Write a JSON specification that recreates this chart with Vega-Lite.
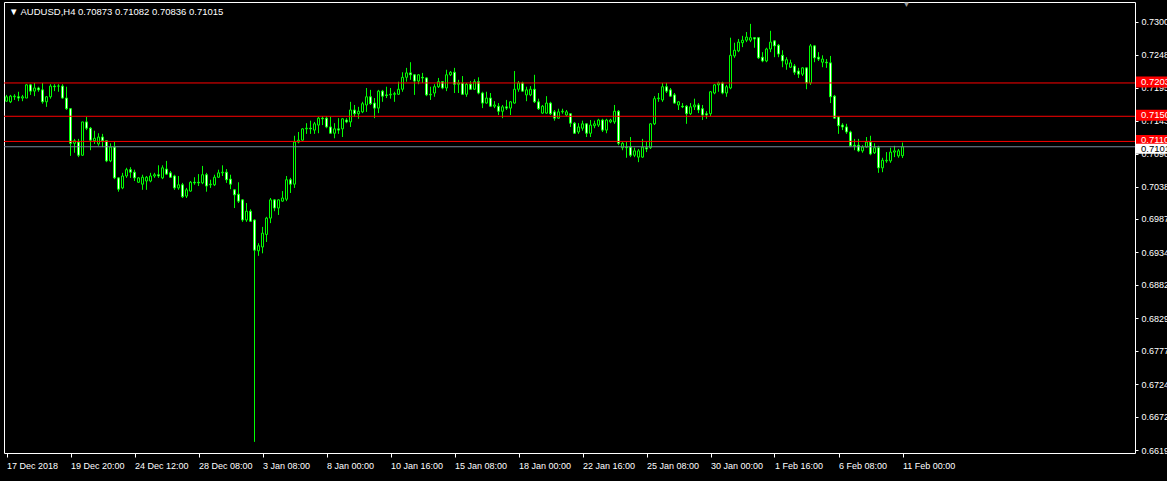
{
  "$schema": "https://vega.github.io/schema/vega-lite/v6.json",
  "width": 1131,
  "height": 451,
  "autosize": {"type": "none"},
  "padding": {"left": 4, "top": 2, "right": 32, "bottom": 28},
  "background": "#000000",
  "title": {
    "text": "▼ AUDUSD,H4  0.70873 0.71082 0.70836 0.71015",
    "anchor": "start",
    "frame": "group",
    "offset": -15,
    "dx": 5,
    "color": "#ffffff",
    "font": "Liberation Sans",
    "fontSize": 9.5,
    "fontWeight": "normal"
  },
  "config": {
    "view": {"fill": "#000000", "stroke": "#ffffff", "strokeWidth": 1},
    "font": "Liberation Sans",
    "scale": {"continuousPadding": 0},
    "axisX": {"domain": false, "grid": false, "tickColor": "#ffffff", "tickSize": 4, "labelColor": "#ffffff", "labelFont": "Liberation Sans", "labelFontSize": 9, "labelAlign": "left", "labelBaseline": "top", "labelPadding": 4, "labelOverlap": false, "labelFlush": false, "labelBound": false},
    "axisY": {"domain": false, "grid": false, "tickColor": "#ffffff", "tickSize": 3, "labelColor": "#ffffff", "labelFont": "Liberation Sans", "labelFontSize": 9, "labelPadding": 3, "labelOverlap": false, "labelFlush": false, "labelBound": false}
  },
  "datasets": {
    "bars": [
      {"i":0,"o":0.7174,"h":0.7184,"l":0.7173,"c":0.7181},
      {"i":1,"o":0.7173,"h":0.7184,"l":0.7171,"c":0.7182},
      {"i":2,"o":0.7181,"h":0.7185,"l":0.7176,"c":0.7182},
      {"i":3,"o":0.7181,"h":0.7189,"l":0.7174,"c":0.7179},
      {"i":4,"o":0.7179,"h":0.7184,"l":0.7174,"c":0.7181},
      {"i":5,"o":0.7179,"h":0.7201,"l":0.7179,"c":0.7200},
      {"i":6,"o":0.7200,"h":0.7201,"l":0.7184,"c":0.7190},
      {"i":7,"o":0.7190,"h":0.7203,"l":0.7182,"c":0.7195},
      {"i":8,"o":0.7195,"h":0.7197,"l":0.7189,"c":0.7192},
      {"i":9,"o":0.7192,"h":0.7203,"l":0.7170,"c":0.7173},
      {"i":10,"o":0.7173,"h":0.7182,"l":0.7165,"c":0.7181},
      {"i":11,"o":0.7181,"h":0.7201,"l":0.7178,"c":0.7198},
      {"i":12,"o":0.7198,"h":0.7201,"l":0.7190,"c":0.7197},
      {"i":13,"o":0.7198,"h":0.7201,"l":0.7189,"c":0.7198},
      {"i":14,"o":0.7198,"h":0.7201,"l":0.7178,"c":0.7179},
      {"i":15,"o":0.7179,"h":0.7197,"l":0.7160,"c":0.7162},
      {"i":16,"o":0.7162,"h":0.7163,"l":0.7087,"c":0.7107},
      {"i":17,"o":0.7107,"h":0.7114,"l":0.7092,"c":0.7111},
      {"i":18,"o":0.7109,"h":0.7114,"l":0.7085,"c":0.7088},
      {"i":19,"o":0.7088,"h":0.7141,"l":0.7087,"c":0.7141},
      {"i":20,"o":0.7141,"h":0.7149,"l":0.7128,"c":0.7131},
      {"i":21,"o":0.7131,"h":0.7133,"l":0.7096,"c":0.7112},
      {"i":22,"o":0.7111,"h":0.7127,"l":0.7106,"c":0.7115},
      {"i":23,"o":0.7106,"h":0.7123,"l":0.7103,"c":0.7117},
      {"i":24,"o":0.7117,"h":0.7122,"l":0.7101,"c":0.7111},
      {"i":25,"o":0.7111,"h":0.7111,"l":0.7077,"c":0.7079},
      {"i":26,"o":0.7079,"h":0.7107,"l":0.7077,"c":0.7101},
      {"i":27,"o":0.7101,"h":0.7109,"l":0.7050,"c":0.7052},
      {"i":28,"o":0.7052,"h":0.7053,"l":0.7030,"c":0.7034},
      {"i":29,"o":0.7036,"h":0.7060,"l":0.7034,"c":0.7055},
      {"i":30,"o":0.7055,"h":0.7068,"l":0.7052,"c":0.7065},
      {"i":31,"o":0.7065,"h":0.7069,"l":0.7052,"c":0.7061},
      {"i":32,"o":0.7061,"h":0.7065,"l":0.7047,"c":0.7052},
      {"i":33,"o":0.7045,"h":0.7053,"l":0.7044,"c":0.7052},
      {"i":34,"o":0.7042,"h":0.7057,"l":0.7033,"c":0.7053},
      {"i":35,"o":0.7047,"h":0.7055,"l":0.7033,"c":0.7053},
      {"i":36,"o":0.7047,"h":0.7060,"l":0.7045,"c":0.7055},
      {"i":37,"o":0.7055,"h":0.7060,"l":0.7052,"c":0.7057},
      {"i":38,"o":0.7057,"h":0.7072,"l":0.7052,"c":0.7055},
      {"i":39,"o":0.7052,"h":0.7072,"l":0.7050,"c":0.7068},
      {"i":40,"o":0.7066,"h":0.7079,"l":0.7057,"c":0.7058},
      {"i":41,"o":0.7060,"h":0.7063,"l":0.7052,"c":0.7053},
      {"i":42,"o":0.7055,"h":0.7057,"l":0.7033,"c":0.7036},
      {"i":43,"o":0.7036,"h":0.7055,"l":0.7033,"c":0.7041},
      {"i":44,"o":0.7041,"h":0.7044,"l":0.7020,"c":0.7022},
      {"i":45,"o":0.7023,"h":0.7036,"l":0.7020,"c":0.7033},
      {"i":46,"o":0.7031,"h":0.7047,"l":0.7030,"c":0.7045},
      {"i":47,"o":0.7045,"h":0.7053,"l":0.7041,"c":0.7044},
      {"i":48,"o":0.7045,"h":0.7058,"l":0.7039,"c":0.7044},
      {"i":49,"o":0.7044,"h":0.7071,"l":0.7042,"c":0.7057},
      {"i":50,"o":0.7057,"h":0.7060,"l":0.7030,"c":0.7039},
      {"i":51,"o":0.7041,"h":0.7049,"l":0.7036,"c":0.7042},
      {"i":52,"o":0.7041,"h":0.7057,"l":0.7039,"c":0.7053},
      {"i":53,"o":0.7053,"h":0.7065,"l":0.7052,"c":0.7060},
      {"i":54,"o":0.7060,"h":0.7072,"l":0.7055,"c":0.7061},
      {"i":55,"o":0.7061,"h":0.7066,"l":0.7044,"c":0.7049},
      {"i":56,"o":0.7050,"h":0.7057,"l":0.7034,"c":0.7042},
      {"i":57,"o":0.7033,"h":0.7034,"l":0.7004,"c":0.7025},
      {"i":58,"o":0.7026,"h":0.7045,"l":0.7012,"c":0.7015},
      {"i":59,"o":0.7017,"h":0.7018,"l":0.6982,"c":0.6985},
      {"i":60,"o":0.6985,"h":0.7012,"l":0.6982,"c":0.6999},
      {"i":61,"o":0.6999,"h":0.7002,"l":0.6982,"c":0.6983},
      {"i":62,"o":0.6985,"h":0.6986,"l":0.6632,"c":0.6937},
      {"i":63,"o":0.6936,"h":0.6948,"l":0.6928,"c":0.6944},
      {"i":64,"o":0.6942,"h":0.6974,"l":0.6932,"c":0.6964},
      {"i":65,"o":0.6962,"h":0.6990,"l":0.6950,"c":0.6988},
      {"i":66,"o":0.6988,"h":0.7020,"l":0.6980,"c":0.7017},
      {"i":67,"o":0.7017,"h":0.7018,"l":0.6999,"c":0.7004},
      {"i":68,"o":0.7004,"h":0.7018,"l":0.6993,"c":0.7017},
      {"i":69,"o":0.7015,"h":0.7031,"l":0.7014,"c":0.7020},
      {"i":70,"o":0.7018,"h":0.7055,"l":0.7015,"c":0.7049},
      {"i":71,"o":0.7049,"h":0.7052,"l":0.7028,"c":0.7042},
      {"i":72,"o":0.7042,"h":0.7119,"l":0.7036,"c":0.7109},
      {"i":73,"o":0.7109,"h":0.7125,"l":0.7107,"c":0.7112},
      {"i":74,"o":0.7112,"h":0.7131,"l":0.7111,"c":0.7130},
      {"i":75,"o":0.7130,"h":0.7139,"l":0.7122,"c":0.7131},
      {"i":76,"o":0.7131,"h":0.7143,"l":0.7122,"c":0.7130},
      {"i":77,"o":0.7128,"h":0.7141,"l":0.7122,"c":0.7138},
      {"i":78,"o":0.7136,"h":0.7149,"l":0.7123,"c":0.7147},
      {"i":79,"o":0.7147,"h":0.7150,"l":0.7136,"c":0.7146},
      {"i":80,"o":0.7147,"h":0.7150,"l":0.7131,"c":0.7133},
      {"i":81,"o":0.7133,"h":0.7149,"l":0.7122,"c":0.7123},
      {"i":82,"o":0.7123,"h":0.7139,"l":0.7115,"c":0.7130},
      {"i":83,"o":0.7130,"h":0.7147,"l":0.7122,"c":0.7128},
      {"i":84,"o":0.7130,"h":0.7147,"l":0.7117,"c":0.7146},
      {"i":85,"o":0.7144,"h":0.7147,"l":0.7139,"c":0.7141},
      {"i":86,"o":0.7141,"h":0.7173,"l":0.7133,"c":0.7160},
      {"i":87,"o":0.7160,"h":0.7168,"l":0.7149,"c":0.7154},
      {"i":88,"o":0.7154,"h":0.7165,"l":0.7146,"c":0.7158},
      {"i":89,"o":0.7157,"h":0.7173,"l":0.7155,"c":0.7170},
      {"i":90,"o":0.7168,"h":0.7195,"l":0.7157,"c":0.7181},
      {"i":91,"o":0.7181,"h":0.7192,"l":0.7168,"c":0.7170},
      {"i":92,"o":0.7171,"h":0.7179,"l":0.7147,"c":0.7163},
      {"i":93,"o":0.7163,"h":0.7192,"l":0.7155,"c":0.7190},
      {"i":94,"o":0.7190,"h":0.7192,"l":0.7173,"c":0.7182},
      {"i":95,"o":0.7184,"h":0.7197,"l":0.7179,"c":0.7183},
      {"i":96,"o":0.7184,"h":0.7195,"l":0.7178,"c":0.7185},
      {"i":97,"o":0.7185,"h":0.7189,"l":0.7173,"c":0.7186},
      {"i":98,"o":0.7185,"h":0.7205,"l":0.7184,"c":0.7193},
      {"i":99,"o":0.7193,"h":0.7220,"l":0.7189,"c":0.7212},
      {"i":100,"o":0.7212,"h":0.7227,"l":0.7205,"c":0.7219},
      {"i":101,"o":0.7219,"h":0.7236,"l":0.7208,"c":0.7216},
      {"i":102,"o":0.7216,"h":0.7217,"l":0.7184,"c":0.7206},
      {"i":103,"o":0.7206,"h":0.7217,"l":0.7201,"c":0.7216},
      {"i":104,"o":0.7212,"h":0.7219,"l":0.7203,"c":0.7211},
      {"i":105,"o":0.7211,"h":0.7212,"l":0.7182,"c":0.7184},
      {"i":106,"o":0.7184,"h":0.7197,"l":0.7176,"c":0.7185},
      {"i":107,"o":0.7187,"h":0.7201,"l":0.7181,"c":0.7197},
      {"i":108,"o":0.7197,"h":0.7211,"l":0.7195,"c":0.7205},
      {"i":109,"o":0.7205,"h":0.7206,"l":0.7193,"c":0.7195},
      {"i":110,"o":0.7195,"h":0.7224,"l":0.7190,"c":0.7216},
      {"i":111,"o":0.7216,"h":0.7222,"l":0.7214,"c":0.7220},
      {"i":112,"o":0.7220,"h":0.7227,"l":0.7187,"c":0.7201},
      {"i":113,"o":0.7201,"h":0.7208,"l":0.7187,"c":0.7203},
      {"i":114,"o":0.7203,"h":0.7214,"l":0.7184,"c":0.7185},
      {"i":115,"o":0.7185,"h":0.7203,"l":0.7181,"c":0.7201},
      {"i":116,"o":0.7201,"h":0.7206,"l":0.7192,"c":0.7193},
      {"i":117,"o":0.7193,"h":0.7209,"l":0.7192,"c":0.7205},
      {"i":118,"o":0.7205,"h":0.7212,"l":0.7185,"c":0.7187},
      {"i":119,"o":0.7187,"h":0.7189,"l":0.7163,"c":0.7171},
      {"i":120,"o":0.7171,"h":0.7189,"l":0.7170,"c":0.7179},
      {"i":121,"o":0.7179,"h":0.7187,"l":0.7165,"c":0.7166},
      {"i":122,"o":0.7166,"h":0.7174,"l":0.7163,"c":0.7168},
      {"i":123,"o":0.7166,"h":0.7171,"l":0.7152,"c":0.7158},
      {"i":124,"o":0.7158,"h":0.7168,"l":0.7147,"c":0.7165},
      {"i":125,"o":0.7165,"h":0.7176,"l":0.7160,"c":0.7163},
      {"i":126,"o":0.7163,"h":0.7174,"l":0.7152,"c":0.7173},
      {"i":127,"o":0.7171,"h":0.7222,"l":0.7170,"c":0.7193},
      {"i":128,"o":0.7193,"h":0.7206,"l":0.7189,"c":0.7203},
      {"i":129,"o":0.7203,"h":0.7205,"l":0.7189,"c":0.7190},
      {"i":130,"o":0.7184,"h":0.7197,"l":0.7174,"c":0.7192},
      {"i":131,"o":0.7184,"h":0.7198,"l":0.7182,"c":0.7193},
      {"i":132,"o":0.7193,"h":0.7216,"l":0.7171,"c":0.7173},
      {"i":133,"o":0.7173,"h":0.7178,"l":0.7160,"c":0.7162},
      {"i":134,"o":0.7155,"h":0.7168,"l":0.7154,"c":0.7166},
      {"i":135,"o":0.7155,"h":0.7182,"l":0.7154,"c":0.7171},
      {"i":136,"o":0.7171,"h":0.7173,"l":0.7152,"c":0.7154},
      {"i":137,"o":0.7157,"h":0.7160,"l":0.7143,"c":0.7147},
      {"i":138,"o":0.7147,"h":0.7162,"l":0.7146,"c":0.7157},
      {"i":139,"o":0.7157,"h":0.7162,"l":0.7154,"c":0.7158},
      {"i":140,"o":0.7152,"h":0.7160,"l":0.7150,"c":0.7157},
      {"i":141,"o":0.7154,"h":0.7155,"l":0.7133,"c":0.7139},
      {"i":142,"o":0.7139,"h":0.7141,"l":0.7122,"c":0.7123},
      {"i":143,"o":0.7125,"h":0.7139,"l":0.7122,"c":0.7133},
      {"i":144,"o":0.7131,"h":0.7143,"l":0.7127,"c":0.7138},
      {"i":145,"o":0.7138,"h":0.7139,"l":0.7117,"c":0.7123},
      {"i":146,"o":0.7123,"h":0.7144,"l":0.7117,"c":0.7136},
      {"i":147,"o":0.7135,"h":0.7143,"l":0.7131,"c":0.7138},
      {"i":148,"o":0.7136,"h":0.7146,"l":0.7133,"c":0.7144},
      {"i":149,"o":0.7144,"h":0.7146,"l":0.7125,"c":0.7128},
      {"i":150,"o":0.7128,"h":0.7146,"l":0.7123,"c":0.7144},
      {"i":151,"o":0.7141,"h":0.7146,"l":0.7139,"c":0.7144},
      {"i":152,"o":0.7141,"h":0.7168,"l":0.7138,"c":0.7158},
      {"i":153,"o":0.7158,"h":0.7160,"l":0.7104,"c":0.7107},
      {"i":154,"o":0.7100,"h":0.7109,"l":0.7096,"c":0.7107},
      {"i":155,"o":0.7101,"h":0.7109,"l":0.7084,"c":0.7100},
      {"i":156,"o":0.7101,"h":0.7117,"l":0.7085,"c":0.7088},
      {"i":157,"o":0.7088,"h":0.7100,"l":0.7085,"c":0.7095},
      {"i":158,"o":0.7085,"h":0.7098,"l":0.7077,"c":0.7095},
      {"i":159,"o":0.7085,"h":0.7114,"l":0.7084,"c":0.7101},
      {"i":160,"o":0.7100,"h":0.7109,"l":0.7093,"c":0.7098},
      {"i":161,"o":0.7100,"h":0.7139,"l":0.7098,"c":0.7138},
      {"i":162,"o":0.7138,"h":0.7182,"l":0.7136,"c":0.7178},
      {"i":163,"o":0.7178,"h":0.7187,"l":0.7173,"c":0.7179},
      {"i":164,"o":0.7176,"h":0.7203,"l":0.7173,"c":0.7197},
      {"i":165,"o":0.7197,"h":0.7203,"l":0.7187,"c":0.7190},
      {"i":166,"o":0.7192,"h":0.7195,"l":0.7181,"c":0.7182},
      {"i":167,"o":0.7184,"h":0.7187,"l":0.7170,"c":0.7171},
      {"i":168,"o":0.7168,"h":0.7174,"l":0.7160,"c":0.7173},
      {"i":169,"o":0.7166,"h":0.7171,"l":0.7163,"c":0.7165},
      {"i":170,"o":0.7166,"h":0.7168,"l":0.7138,"c":0.7154},
      {"i":171,"o":0.7154,"h":0.7171,"l":0.7152,"c":0.7165},
      {"i":172,"o":0.7165,"h":0.7178,"l":0.7160,"c":0.7168},
      {"i":173,"o":0.7168,"h":0.7171,"l":0.7155,"c":0.7160},
      {"i":174,"o":0.7162,"h":0.7168,"l":0.7144,"c":0.7152},
      {"i":175,"o":0.7154,"h":0.7158,"l":0.7146,"c":0.7152},
      {"i":176,"o":0.7154,"h":0.7190,"l":0.7150,"c":0.7189},
      {"i":177,"o":0.7187,"h":0.7201,"l":0.7185,"c":0.7200},
      {"i":178,"o":0.7200,"h":0.7205,"l":0.7189,"c":0.7203},
      {"i":179,"o":0.7203,"h":0.7205,"l":0.7185,"c":0.7187},
      {"i":180,"o":0.7187,"h":0.7200,"l":0.7181,"c":0.7197},
      {"i":181,"o":0.7195,"h":0.7275,"l":0.7193,"c":0.7247},
      {"i":182,"o":0.7246,"h":0.7267,"l":0.7243,"c":0.7255},
      {"i":183,"o":0.7254,"h":0.7273,"l":0.7252,"c":0.7268},
      {"i":184,"o":0.7267,"h":0.7278,"l":0.7260,"c":0.7271},
      {"i":185,"o":0.7271,"h":0.7284,"l":0.7268,"c":0.7276},
      {"i":186,"o":0.7271,"h":0.7297,"l":0.7268,"c":0.7275},
      {"i":187,"o":0.7275,"h":0.7276,"l":0.7259,"c":0.7273},
      {"i":188,"o":0.7275,"h":0.7276,"l":0.7241,"c":0.7243},
      {"i":189,"o":0.7244,"h":0.7252,"l":0.7236,"c":0.7238},
      {"i":190,"o":0.7238,"h":0.7259,"l":0.7236,"c":0.7257},
      {"i":191,"o":0.7257,"h":0.7286,"l":0.7252,"c":0.7268},
      {"i":192,"o":0.7270,"h":0.7271,"l":0.7244,"c":0.7262},
      {"i":193,"o":0.7263,"h":0.7265,"l":0.7244,"c":0.7249},
      {"i":194,"o":0.7247,"h":0.7255,"l":0.7228,"c":0.7238},
      {"i":195,"o":0.7233,"h":0.7244,"l":0.7224,"c":0.7240},
      {"i":196,"o":0.7228,"h":0.7240,"l":0.7227,"c":0.7235},
      {"i":197,"o":0.7230,"h":0.7233,"l":0.7216,"c":0.7220},
      {"i":198,"o":0.7222,"h":0.7227,"l":0.7211,"c":0.7217},
      {"i":199,"o":0.7217,"h":0.7228,"l":0.7214,"c":0.7227},
      {"i":200,"o":0.7227,"h":0.7228,"l":0.7193,"c":0.7203},
      {"i":201,"o":0.7203,"h":0.7265,"l":0.7200,"c":0.7262},
      {"i":202,"o":0.7262,"h":0.7263,"l":0.7236,"c":0.7243},
      {"i":203,"o":0.7244,"h":0.7252,"l":0.7238,"c":0.7241},
      {"i":204,"o":0.7236,"h":0.7247,"l":0.7228,"c":0.7241},
      {"i":205,"o":0.7236,"h":0.7241,"l":0.7227,"c":0.7235},
      {"i":206,"o":0.7235,"h":0.7246,"l":0.7171,"c":0.7181},
      {"i":207,"o":0.7182,"h":0.7184,"l":0.7146,"c":0.7147},
      {"i":208,"o":0.7149,"h":0.7150,"l":0.7122,"c":0.7135},
      {"i":209,"o":0.7136,"h":0.7139,"l":0.7128,"c":0.7133},
      {"i":210,"o":0.7133,"h":0.7138,"l":0.7122,"c":0.7125},
      {"i":211,"o":0.7125,"h":0.7127,"l":0.7101,"c":0.7103},
      {"i":212,"o":0.7104,"h":0.7114,"l":0.7096,"c":0.7103},
      {"i":213,"o":0.7104,"h":0.7114,"l":0.7093,"c":0.7095},
      {"i":214,"o":0.7095,"h":0.7104,"l":0.7092,"c":0.7101},
      {"i":215,"o":0.7101,"h":0.7117,"l":0.7100,"c":0.7109},
      {"i":216,"o":0.7109,"h":0.7119,"l":0.7088,"c":0.7090},
      {"i":217,"o":0.7092,"h":0.7107,"l":0.7090,"c":0.7100},
      {"i":218,"o":0.7100,"h":0.7103,"l":0.7060,"c":0.7068},
      {"i":219,"o":0.7068,"h":0.7084,"l":0.7061,"c":0.7080},
      {"i":220,"o":0.7079,"h":0.7093,"l":0.7076,"c":0.7080},
      {"i":221,"o":0.7079,"h":0.7100,"l":0.7076,"c":0.7093},
      {"i":222,"o":0.7093,"h":0.7103,"l":0.7085,"c":0.7095},
      {"i":223,"o":0.7087,"h":0.7098,"l":0.7084,"c":0.7095},
      {"i":224,"o":0.70873,"h":0.71082,"l":0.70836,"c":0.71015}
    ],
    "levels": [
      {"p":0.7203,"k":"line","t":"0.7203"},
      {"p":0.7150,"k":"line","t":"0.7150"},
      {"p":0.7110,"k":"line","t":"0.7110"}
    ],
    "bid": [
      {"p":0.71015,"k":"bid","t":"0.7101"}
    ],
    "shift": [
      {"i":225,"p":0.73318,"t":"▼"}
    ]
  },
  "layer": [
    {
      "data": {"name": "bars"},
      "mark": {"type": "rule", "color": "#00ff00", "strokeWidth": 1},
      "encoding": {
        "x": {"field": "i", "type": "quantitative", "title": null,
              "scale": {"domain": [-0.625, 282.125], "nice": false, "zero": false, "padding": 0},
              "axis": {"values": [0,16,32,48,64,80,96,112,128,144,160,176,192,208,224],
                       "tickCount": 40, "labelOverlap": false,
                       "labelExpr": "['17 Dec 2018','19 Dec 20:00','24 Dec 12:00','28 Dec 08:00','3 Jan 08:00','8 Jan 00:00','10 Jan 16:00','15 Jan 08:00','18 Jan 00:00','22 Jan 16:00','25 Jan 08:00','30 Jan 00:00','1 Feb 16:00','6 Feb 08:00','11 Feb 00:00'][round(datum.value/16)]"}},
        "y": {"field": "l", "type": "quantitative", "title": null,
              "scale": {"domain": [0.66143, 0.73318], "nice": false, "zero": false, "padding": 0},
              "axis": {"orient": "right", "format": ".4f", "labelOverlap": false, "tickCount": 40,
                       "values": [0.7300,0.7248,0.7195,0.7143,0.7090,0.7038,0.6987,0.6934,0.6882,0.6829,0.6777,0.6724,0.6672,0.6619]}},
        "y2": {"field": "h"}
      }
    },
    {
      "data": {"name": "bars"},
      "mark": {"type": "bar", "size": 2, "stroke": "#00ff00", "strokeWidth": 1},
      "encoding": {
        "x": {"field": "i", "type": "quantitative", "title": null},
        "y": {"field": "o", "type": "quantitative", "title": null},
        "y2": {"field": "c"},
        "fill": {"condition": {"test": "datum.o > datum.c", "value": "#ffffff"}, "value": "#000000"}
      }
    },
    {
      "data": {"name": "levels"},
      "mark": {"type": "rule", "strokeWidth": 1, "color": "#ff0000"},
      "encoding": {
        "y": {"field": "p", "type": "quantitative", "title": null}
      }
    },
    {
      "data": {"name": "bid"},
      "mark": {"type": "rule", "strokeWidth": 1, "color": "#778899"},
      "encoding": {
        "y": {"field": "p", "type": "quantitative", "title": null}
      }
    },
    {
      "data": {"name": "shift"},
      "mark": {"type": "text", "align": "center", "baseline": "top", "fontSize": 8, "color": "#9a9a9a", "clip": false, "dy": -1},
      "encoding": {
        "x": {"field": "i", "type": "quantitative"},
        "y": {"field": "p", "type": "quantitative", "title": null},
        "text": {"field": "t"}
      }
    },
    {
      "data": {"name": "levels"},
      "mark": {"type": "tick", "orient": "horizontal", "size": 36, "thickness": 11, "clip": false, "opacity": 1, "color": "#ff0000", "yOffset": -1},
      "encoding": {
        "x": {"datum": 286.875, "type": "quantitative"},
        "y": {"field": "p", "type": "quantitative", "title": null}
      }
    },
    {
      "data": {"name": "bid"},
      "mark": {"type": "tick", "orient": "horizontal", "size": 36, "thickness": 10, "clip": false, "opacity": 1, "color": "#ffffff", "yOffset": 2},
      "encoding": {
        "x": {"datum": 286.875, "type": "quantitative"},
        "y": {"field": "p", "type": "quantitative", "title": null}
      }
    },
    {
      "data": {"name": "levels"},
      "mark": {"type": "text", "align": "left", "baseline": "middle", "font": "Liberation Sans", "fontSize": 9.5, "clip": false, "color": "#ffffff", "yOffset": -1},
      "encoding": {
        "x": {"datum": 283.625, "type": "quantitative"},
        "y": {"field": "p", "type": "quantitative", "title": null},
        "text": {"field": "t"}
      }
    },
    {
      "data": {"name": "bid"},
      "mark": {"type": "text", "align": "left", "baseline": "middle", "font": "Liberation Sans", "fontSize": 9.5, "clip": false, "color": "#000000", "yOffset": 2},
      "encoding": {
        "x": {"datum": 283.625, "type": "quantitative"},
        "y": {"field": "p", "type": "quantitative", "title": null},
        "text": {"field": "t"}
      }
    }
  ]
}
